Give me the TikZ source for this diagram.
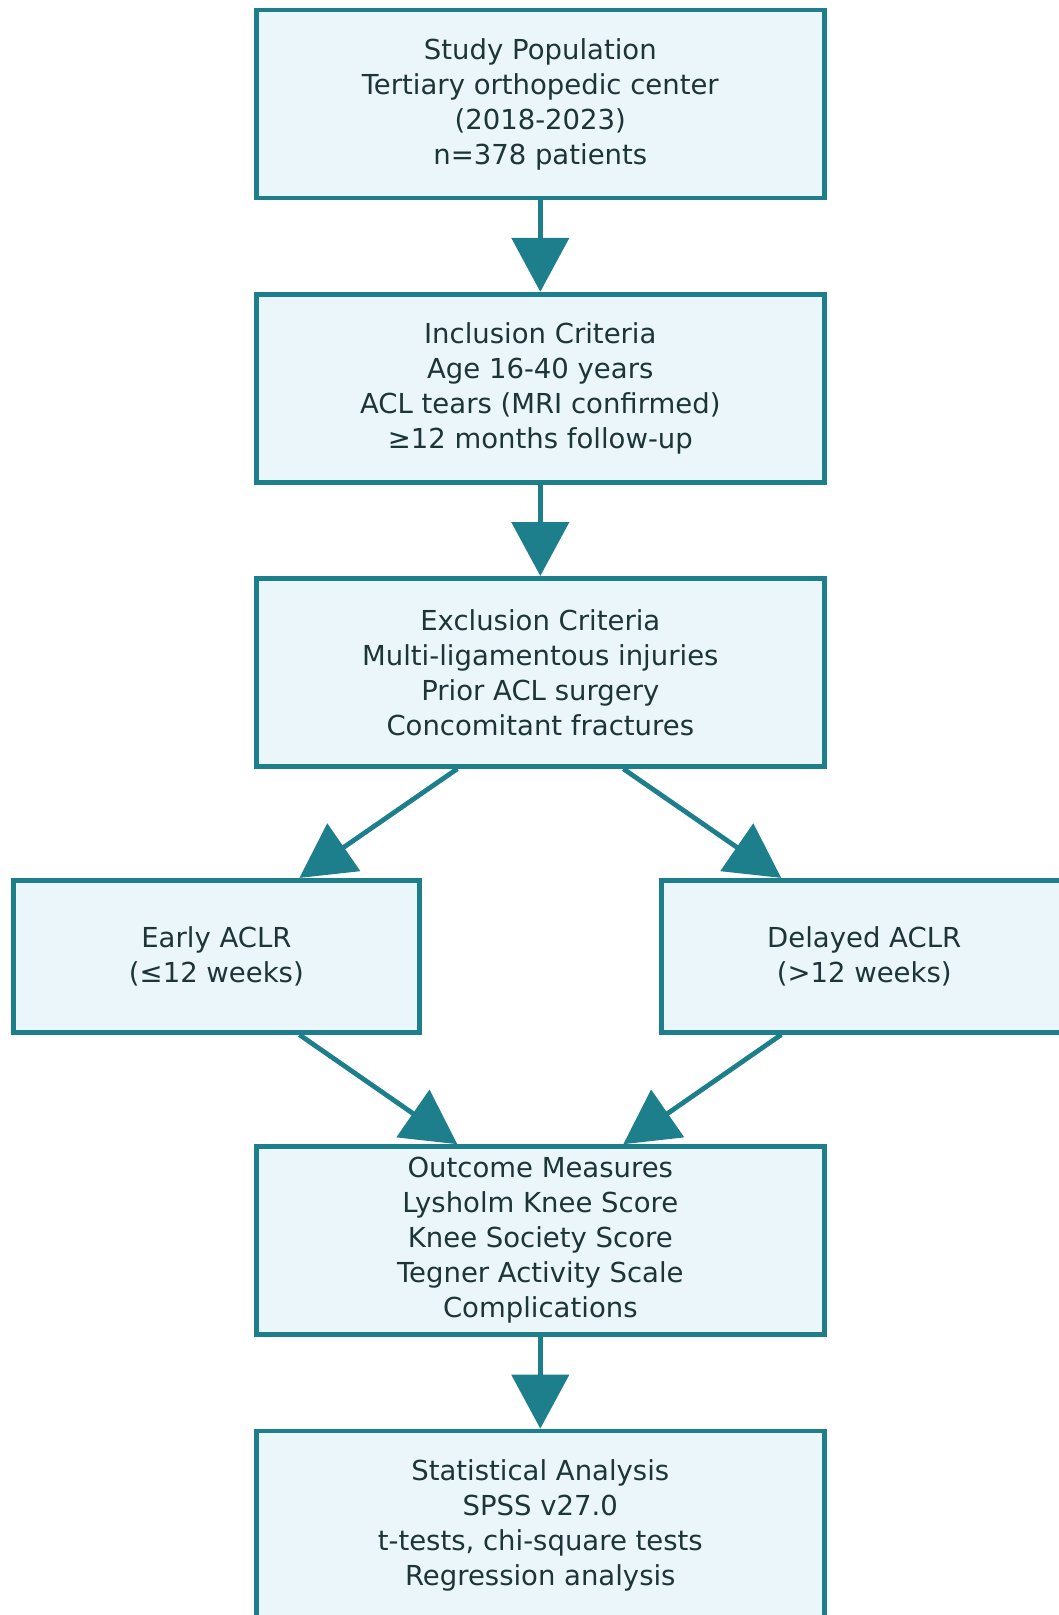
\documentclass[tikz,border=0pt]{standalone}
\usepackage{fontspec}
\setmainfont{DejaVu Sans}
\usetikzlibrary{arrows.meta,calc}
\definecolor{teal}{HTML}{1E7F8C}
\definecolor{boxfill}{HTML}{EAF6F9}
\definecolor{txt}{HTML}{1D3438}
\begin{document}
\begin{tikzpicture}[x=1pt,y=-1pt,
  box/.style={draw=teal, fill=boxfill, line width=4.8pt, align=center, text=txt,
    font=\fontsize{27.5}{35}\selectfont, minimum width=568pt, minimum height=188pt, inner sep=0pt},
  sidebox/.style={box, minimum width=406pt, minimum height=152pt},
  conn/.style={draw=teal, line width=4.8pt, -{Triangle[length=54pt,width=57pt]}}]
\useasboundingbox (0,0) rectangle (1058,1615);
\node[box] (b1) at (540.3,104) {Study Population\\Tertiary orthopedic center\\(2018-2023)\\n=378 patients};
\node[box] (b2) at (540.3,388.2) {Inclusion Criteria\\Age 16-40 years\\ACL tears (MRI confirmed)\\≥12 months follow-up};
\node[box] (b3) at (540.3,672.4) {Exclusion Criteria\\Multi-ligamentous injuries\\Prior ACL surgery\\Concomitant fractures};
\node[sidebox] (early) at (216.4,956.3) {Early ACLR\\(≤12 weeks)};
\node[sidebox] (late) at (864.2,956.3) {Delayed ACLR\\(>12 weeks)};
\node[box] (b5) at (540.3,1240.6) {Outcome Measures\\Lysholm Knee Score\\Knee Society Score\\Tegner Activity Scale\\Complications};
\node[box] (b6) at (540.3,1525) {Statistical Analysis\\SPSS v27.0\\t-tests, chi-square tests\\Regression analysis};
\draw[conn] (b1.south) -- (b2.north);
\draw[conn] (b2.south) -- (b3.north);
\draw[conn] ([xshift=-83pt]b3.south) -- ([xshift=83pt]early.north);
\draw[conn] ([xshift=83pt]b3.south) -- ([xshift=-83pt]late.north);
\draw[conn] ([xshift=83pt]early.south) -- ([xshift=-83pt]b5.north);
\draw[conn] ([xshift=-83pt]late.south) -- ([xshift=83pt]b5.north);
\draw[conn] (b5.south) -- (b6.north);
\end{tikzpicture}
\end{document}
